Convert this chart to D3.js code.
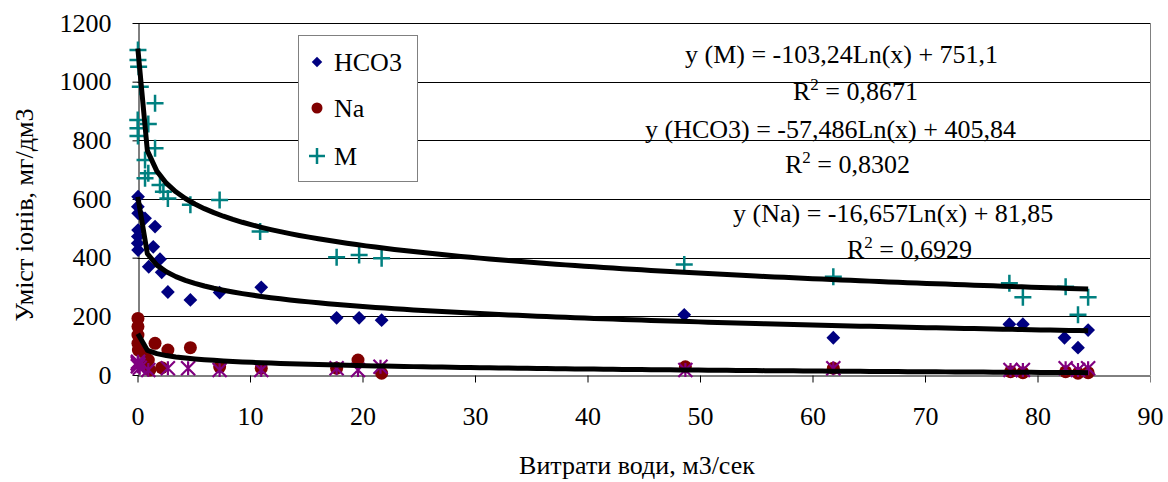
<!DOCTYPE html>
<html lang="uk">
<head>
  <meta charset="utf-8">
  <title>Умiст іонів</title>
  <script src="https://d3js.org/d3.v7.min.js"></script>
  <style>
    body { margin: 0; background: #fff; }
  </style>
</head>
<body>
<script type="text/javascript">
// series data: [x (м3/сек), y (мг/дм3)]
var hco3Data = [
  [0.05, 608], [0.03, 574], [0.06, 551], [0.67, 534], [0.05, 494], [1.56, 506],
  [0.03, 472], [0.02, 449], [0.05, 426], [1.4, 437], [1.0, 369], [2.0, 395],
  [2.15, 350], [2.7, 283], [4.7, 256], [7.3, 281], [11, 299],
  [17.7, 195], [19.7, 195], [21.7, 187], [48.6, 205],
  [61.85, 127], [77.5, 173], [78.7, 173], [82.4, 127], [83.6, 93], [84.5, 153]
];
var naData = [
  [0.04, 193], [0.04, 165], [0.04, 136], [0.04, 108], [0.08, 85], [0.67, 74],
  [1.56, 108], [2.7, 85], [4.7, 93], [1.1, 17], [2.15, 25], [0.96, 51],
  [7.3, 28], [11, 23], [17.7, 23], [19.6, 51], [21.7, 6], [48.7, 28],
  [61.85, 23], [77.6, 11], [78.7, 8], [82.5, 11], [83.6, 6], [84.5, 8]
];
var mData = [
  [0.04, 1108], [0.04, 1074], [0.1, 1051], [0.25, 983], [1.56, 926], [0.02, 869],
  [0.96, 856], [0.04, 841], [0.04, 815], [1.56, 773], [0.67, 733], [0.96, 688],
  [0.67, 671], [2.0, 648], [2.3, 625], [2.7, 602], [4.7, 580], [7.3, 597],
  [10.9, 489], [17.7, 401], [19.7, 409], [21.7, 398], [48.6, 377], [61.85, 335],
  [77.5, 313], [78.7, 265], [82.5, 301], [84.5, 265], [83.6, 205]
];
var otherData = [
  [0.02, 40], [0.05, 45], [0.03, 30], [0.08, 35], [0.2, 25], [0.96, 17],
  [2.7, 23], [4.5, 23], [7.3, 17], [11, 17], [17.7, 23], [19.6, 17], [21.6, 28],
  [48.7, 17], [61.85, 23], [77.6, 17], [78.7, 17], [82.5, 23], [83.6, 17], [84.5, 23]
];

// logarithmic trend lines: y = a*Ln(x) + b
var trendNames = ["M", "HCO3", "Na"];
var trendA = [-103.24, -57.486, -16.657];
var trendB = [751.1, 405.84, 81.85];
var trendRange = [0.03, 84.5];

var eqLines = [
  "y (M) = -103,24Ln(x) + 751,1", "R2 = 0,8671",
  "y (HCO3) = -57,486Ln(x) + 405,84", "R2 = 0,8302",
  "y (Na) = -16,657Ln(x) + 81,85", "R2 = 0,6929"
];

var xTicks = [0, 10, 20, 30, 40, 50, 60, 70, 80, 90];
var yTicks = [0, 200, 400, 600, 800, 1000, 1200];
var legendNames = ["HCO3", "Na", "M"];

var FONT = "'Liberation Serif', 'Times New Roman', 'DejaVu Serif', serif";
var W = 1168, H = 482;
var svg = d3.select("body").append("svg").attr("width", W).attr("height", H)
  .style("font-family", FONT);

var x = d3.scaleLinear().domain([0, 90]).range([137.5, 1150]);
var y = d3.scaleLinear().domain([0, 1200]).range([375, 23]);

// gridlines
svg.append("g").selectAll("line").data(yTicks.slice(1)).enter().append("line")
  .attr("x1", x(0)).attr("x2", x(90))
  .attr("y1", function(d) { return Math.round(y(d)) + 0.5; })
  .attr("y2", function(d) { return Math.round(y(d)) + 0.5; })
  .attr("stroke", "#000").attr("stroke-width", 1);

// right border of plot area
svg.append("line").attr("x1", 1150.5).attr("x2", 1150.5).attr("y1", y(1200)).attr("y2", y(0))
  .attr("stroke", "#808080");

// axes
var xAxis = svg.append("g").attr("transform", "translate(0," + (Math.round(y(0)) + 0.5) + ")")
  .call(d3.axisBottom(x).tickValues(xTicks).tickFormat(d3.format("d"))
    .tickSize(7).tickPadding(24).tickSizeOuter(0));
var yAxis = svg.append("g").attr("transform", "translate(" + (Math.round(x(0)) + 0.5) + ",0)")
  .call(d3.axisLeft(y).tickValues(yTicks).tickFormat(d3.format("d"))
    .tickSize(6).tickPadding(21).tickSizeOuter(0));
[xAxis, yAxis].forEach(function(a) {
  a.attr("font-family", null).attr("font-size", null);
  a.selectAll("path").attr("stroke", "#000");
  a.selectAll("line").attr("stroke", "#000");
  a.selectAll("text").style("font-family", FONT).style("font-size", "26px").attr("fill", "#000");
});
xAxis.select(".tick:last-of-type line").attr("stroke", "#808080");

// axis titles
svg.append("text").attr("x", 637).attr("y", 474).attr("text-anchor", "middle")
  .style("font-size", "26px").text("Витрати води, м3/сек");
svg.append("text").attr("transform", "translate(33,215) rotate(-90)").attr("text-anchor", "middle")
  .style("font-size", "26px").text("Умiст іонів, мг/дм3");

// markers
var pts = svg.append("g");
pts.append("g").selectAll("path").data(hco3Data).enter().append("path")
  .attr("d", d3.symbol().type(d3.symbolSquare).size(95))
  .attr("transform", function(d) { return "translate(" + x(d[0]) + "," + y(d[1]) + ") rotate(45)"; })
  .attr("fill", "#000080");

pts.append("g").selectAll("circle").data(naData).enter().append("circle")
  .attr("cx", function(d) { return x(d[0]); })
  .attr("cy", function(d) { return y(d[1]); })
  .attr("r", 6.5).attr("fill", "#800000");

var mG = pts.append("g").attr("stroke", "#008080").attr("stroke-width", 2.5);
mData.forEach(function(d) {
  var cx = x(d[0]), cy = y(d[1]);
  mG.append("path").attr("d", "M" + (cx - 8.5) + "," + cy + "H" + (cx + 8.5) + "M" + cx + "," + (cy - 8.5) + "V" + (cy + 8.5));
});

var oG = pts.append("g").attr("stroke", "#800080").attr("stroke-width", 2.2);
otherData.forEach(function(d) {
  var cx = x(d[0]), cy = y(d[1]), r = 7;
  oG.append("path").attr("d",
    "M" + (cx - r) + "," + (cy - r) + "L" + (cx + r) + "," + (cy + r) +
    "M" + (cx - r) + "," + (cy + r) + "L" + (cx + r) + "," + (cy - r) +
    "M" + cx + "," + (cy - r) + "V" + (cy + r));
});

// trend lines, sampled evenly along x like the spreadsheet does
var nSeg = 100;
var xs = d3.range(0, nSeg + 1).map(function(i) {
  return trendRange[0] + (trendRange[1] - trendRange[0]) * i / nSeg;
});
var line = d3.line().x(function(d) { return x(d[0]); }).y(function(d) { return y(d[1]); });
trendNames.forEach(function(n, i) {
  var pts2 = xs.map(function(v) { return [v, trendA[i] * Math.log(v) + trendB[i]]; });
  svg.append("path").attr("d", line(pts2)).attr("fill", "none")
    .attr("stroke", "#000").attr("stroke-width", 5).attr("stroke-linejoin", "round");
});

// equations
var eqX = [685, 793, 645, 785, 733, 847];
var eqY = [63, 100, 138, 173, 222, 258];
eqLines.forEach(function(s, i) {
  var t = svg.append("text").attr("x", eqX[i]).attr("y", eqY[i]).style("font-size", "26px");
  if (s.indexOf("R2") === 0) {
    t.append("tspan").text("R");
    t.append("tspan").style("font-size", "17px").attr("dy", -10).text("2");
    t.append("tspan").attr("dy", 10).text(s.slice(2));
  } else {
    t.text(s);
  }
});

// legend
var lg = svg.append("g");
lg.append("rect").attr("x", 298.5).attr("y", 35.5).attr("width", 119).attr("height", 146)
  .attr("fill", "#fff").attr("stroke", "#808080");
var ly = [62, 108, 156];
lg.append("path").attr("d", d3.symbol().type(d3.symbolSquare).size(55))
  .attr("transform", "translate(317," + ly[0] + ") rotate(45)").attr("fill", "#000080");
lg.append("circle").attr("cx", 317).attr("cy", ly[1]).attr("r", 5.5).attr("fill", "#800000");
lg.append("path").attr("d", "M309," + ly[2] + "H325M317," + (ly[2] - 8) + "V" + (ly[2] + 8))
  .attr("stroke", "#008080").attr("stroke-width", 2.5);
legendNames.forEach(function(n, i) {
  lg.append("text").attr("x", 334).attr("y", ly[i] + 9).style("font-size", "26px").text(n);
});
</script>
</body>
</html>
